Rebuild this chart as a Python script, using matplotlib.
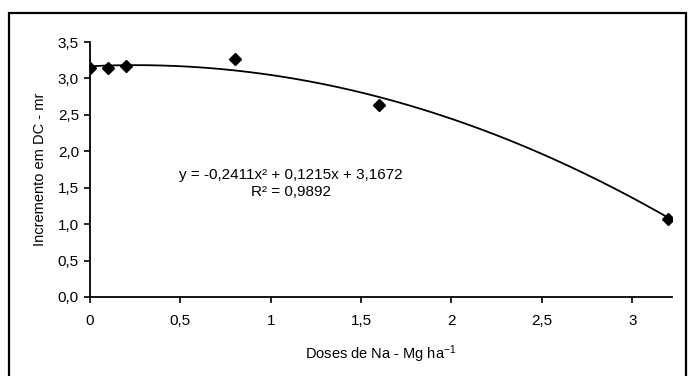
import matplotlib.pyplot as plt
import numpy as np
from matplotlib.patches import Rectangle

# measured points
doses = [0.0, 0.1, 0.2, 0.8, 1.6, 3.2]
incremento = [3.15, 3.15, 3.17, 3.26, 2.63, 1.07]

# polynomial trend line as printed on the chart (a, b, c)
coefs = [-0.2411, 0.1215, 3.1672]
r2 = 0.9892

x_ticks = [0, 0.5, 1, 1.5, 2, 2.5, 3]
x_ticklabels = ["0", "0,5", "1", "1,5", "2", "2,5", "3"]
y_ticks = [0.0, 0.5, 1.0, 1.5, 2.0, 2.5, 3.0, 3.5]
y_ticklabels = ["0,0", "0,5", "1,0", "1,5", "2,0", "2,5", "3,0", "3,5"]

plt.rcParams.update({
    "font.family": "Liberation Sans",
    "font.size": 10.5,
    "mathtext.default": "regular",
})

fig = plt.figure(figsize=(6.88, 3.76), dpi=100)
ax = fig.add_axes([90 / 688, 1 - 297 / 376, (672 - 90) / 688, (297 - 42) / 376])

xs = np.linspace(0, max(doses), 200)
ax.plot(xs, np.polyval(coefs, xs), color="black", lw=1.3, zorder=2)
ax.plot(doses, incremento, linestyle="none", marker="D", ms=6.5, color="black", zorder=3)

ax.set_xlim(0, 3.22)
ax.set_ylim(0, 3.5)
ax.set_xticks(x_ticks, x_ticklabels)
ax.set_yticks(y_ticks, y_ticklabels)
ax.tick_params(direction="out", length=4, width=1.2, color="black", labelsize=11)
ax.tick_params(axis="x", pad=8)
ax.tick_params(axis="y", pad=4)
for side in ("top", "right"):
    ax.spines[side].set_visible(False)
for side in ("left", "bottom"):
    ax.spines[side].set_linewidth(1.3)

ax.set_xlabel("Doses de Na - Mg ha$^{-1}$", labelpad=11)
ax.set_ylabel("Incremento em DC - mr", labelpad=8)

eq = "y = -0,2411x² + 0,1215x + 3,1672"
ax.text(1.11, 1.68, eq, ha="center", va="center", fontsize=11)
ax.text(1.11, 1.44, "R² = {}".format(str(r2).replace(".", ",")),
        ha="center", va="center", fontsize=11)

# outer frame around the whole chart
fig.patches.append(Rectangle((9 / 688, -0.05), (686 - 9) / 688, 1 - 13 / 376 + 0.05,
                             transform=fig.transFigure, fill=False, lw=1.6,
                             edgecolor="black"))

fig.savefig("out.png", dpi=100)
